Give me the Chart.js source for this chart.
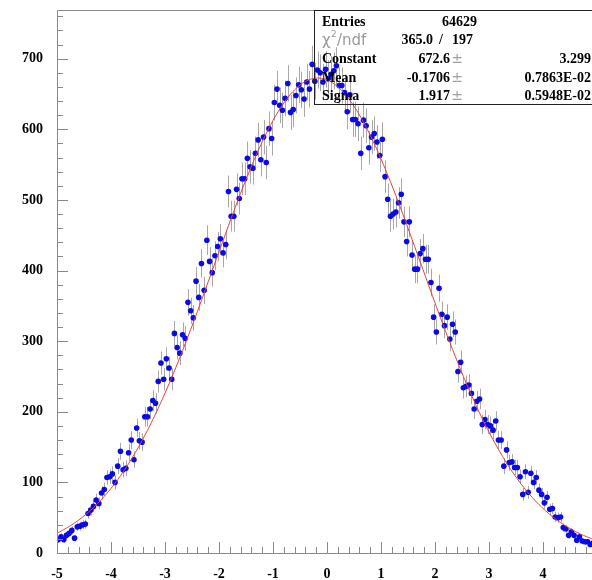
<!DOCTYPE html>
<html>
<head>
<meta charset="utf-8">
<script src="https://cdn.jsdelivr.net/npm/chart.js@4.4.1/dist/chart.umd.min.js"></script>
<style>
  html, body { margin: 0; padding: 0; background: #fff; overflow: hidden; }
  #wrap { position: absolute; left: 0; top: 0; width: 610px; height: 580px; }
</style>
</head>
<body>
<div id="wrap"><canvas id="histo" width="610" height="580"></canvas></div>
<script>
// histogram binning: 200 bins over [-5, 5]
const xMin = -5, xMax = 5, nBins = 200;
const yMax = 769;

// bin contents
const counts = [
  19, 23, 19, 25, 28, 32, 21, 37, 38, 40, 41, 56, 61, 66, 75, 70, 85, 90, 107, 108,
  112, 100, 123, 144, 118, 120, 142, 160, 132, 177, 159, 157, 193, 193, 204, 216, 212, 243, 269, 246,
  275, 262, 246, 311, 291, 283, 309, 304, 355, 343, 333, 385, 362, 410, 372, 443, 413, 397, 421, 434,
  445, 425, 437, 512, 477, 477, 515, 502, 530, 530, 559, 547, 545, 566, 585, 557, 589, 553, 601, 587,
  638, 657, 634, 627, 644, 665, 624, 628, 648, 663, 656, 643, 667, 657, 692, 668, 684, 680, 667, 685,
  672, 678, 683, 690, 662, 662, 652, 625, 649, 614, 614, 608, 566, 613, 605, 574, 589, 594, 582, 563,
  586, 533, 501, 477, 480, 483, 496, 508, 469, 441, 469, 422, 402, 402, 424, 431, 416, 416, 383, 334,
  313, 375, 338, 322, 334, 303, 324, 313, 257, 270, 234, 236, 238, 226, 204, 215, 218, 182, 189, 182,
  180, 174, 187, 160, 160, 123, 146, 128, 129, 121, 121, 108, 83, 115, 86, 113, 100, 107, 89, 83,
  71, 79, 62, 63, 51, 50, 51, 36, 34, 25, 30, 25, 18, 23, 17, 16, 16, 12, 14, 11
];

// gaussian fit result
const fitConstant = 672.6, fitMean = -0.1706, fitSigma = 1.917;
const errConstant = '3.299', errMean = '0.7863E-02', errSigma = '0.5948E-02';
const statEntries = '64629';
const chi2 = '365.0', ndf = '197';

const xTicks = [-5, -4, -3, -2, -1, 0, 1, 2, 3, 4, 5];
const yTicks = [0, 100, 200, 300, 400, 500, 600, 700];
const xMinorStep = 0.2, yMinorStep = 20;

const binWidth = (xMax - xMin) / nBins;
const points = counts.map((c, i) => ({ x: xMin + (i + 0.5) * binWidth, y: c }));

const fitPoints = [];
for (let k = 0; k <= 400; k++) {
  const x = xMin + k * (xMax - xMin) / 400;
  const t = (x - fitMean) / fitSigma;
  fitPoints.push({ x: x, y: fitConstant * Math.exp(-0.5 * t * t) });
}

const serif = '"Liberation Serif", "Times New Roman", serif';

// keep the frame where the layout padding puts it
function noScalePadding(scale) {
  scale.paddingTop = 0;
  scale.paddingBottom = 0;
  scale.paddingLeft = 0;
  scale.paddingRight = 0;
}

// sqrt(N) error bars, drawn under the markers
const errorBars = {
  id: 'errorBars',
  beforeDatasetsDraw(chart) {
    const { ctx, scales: { x, y } } = chart;
    ctx.save();
    ctx.strokeStyle = '#a8a8a8';
    ctx.lineWidth = 1;
    ctx.beginPath();
    points.forEach(p => {
      const e = Math.sqrt(p.y);
      const px = Math.round(x.getPixelForValue(p.x)) + 0.5;
      ctx.moveTo(px, y.getPixelForValue(p.y + e));
      ctx.lineTo(px, y.getPixelForValue(Math.max(0, p.y - e)));
    });
    ctx.stroke();
    ctx.restore();
  }
};

// frame with inward ticks
const frame = {
  id: 'frame',
  afterDatasetsDraw(chart) {
    const { ctx, chartArea: a, scales: { x, y } } = chart;
    ctx.save();
    ctx.strokeStyle = '#8a8a8a';
    ctx.lineWidth = 1;
    ctx.beginPath();
    ctx.moveTo(a.left + 0.5, a.bottom + 0.5);
    ctx.lineTo(a.left + 0.5, a.top + 0.5);
    ctx.lineTo(a.right + 0.5, a.top + 0.5);
    ctx.lineTo(a.right + 0.5, a.bottom + 0.5);
    ctx.lineTo(a.left + 0.5, a.bottom + 0.5);
    for (let k = 0; k * yMinorStep <= yMax; k++) {
      const v = k * yMinorStep;
      const py = Math.round(y.getPixelForValue(v)) + 0.5;
      const len = v % 100 === 0 ? 11 : 6;
      ctx.moveTo(a.left, py);
      ctx.lineTo(a.left + len, py);
    }
    const nx = Math.round((xMax - xMin) / xMinorStep);
    for (let k = 0; k <= nx; k++) {
      const v = xMin + k * xMinorStep;
      const px = Math.round(x.getPixelForValue(v)) + 0.5;
      const len = k % 5 === 0 ? 11 : 6;
      ctx.moveTo(px, a.bottom);
      ctx.lineTo(px, a.bottom - len);
    }
    ctx.stroke();
    ctx.restore();
  }
};

// statistics box
const statBox = {
  id: 'statBox',
  afterDraw(chart) {
    const { ctx, chartArea: a } = chart;
    const left = 314, top = a.top, bottom = 104, right = a.right + 8;
    const cName = 322, cVal = 450, cPm = 457, cErr = 591;
    ctx.save();
    ctx.strokeStyle = '#222';
    ctx.lineWidth = 1;
    ctx.strokeRect(left + 0.5, top + 0.5, right - left, bottom - top);

    ctx.textBaseline = 'middle';
    ctx.fillStyle = '#000';
    ctx.font = 'bold 14px ' + serif;

    ctx.textAlign = 'left';
    ctx.fillText('Entries', cName, 22);
    ctx.textAlign = 'right';
    ctx.fillText(statEntries, 477, 22);

    // chi2 / ndf line
    ctx.fillStyle = '#9a9a9a';
    ctx.font = '15px "DejaVu Sans", sans-serif';
    ctx.textAlign = 'left';
    ctx.fillText('\u03c7', cName, 41);
    ctx.font = '9px "DejaVu Sans", sans-serif';
    ctx.fillText('2', cName + 9, 35);
    ctx.font = '15px "DejaVu Sans", sans-serif';
    ctx.fillText('/ndf', cName + 15, 41);
    ctx.fillStyle = '#000';
    ctx.font = 'bold 14px ' + serif;
    ctx.textAlign = 'right';
    ctx.fillText(chi2, 433, 40);
    ctx.textAlign = 'left';
    ctx.fillText('/', 439, 40);
    ctx.fillText(ndf, 452, 40);

    const rows = [
      ['Constant', fitConstant.toFixed(1), errConstant, 59],
      ['Mean', fitMean.toFixed(4), errMean, 78],
      ['Sigma', fitSigma.toFixed(3), errSigma, 96]
    ];
    rows.forEach(r => {
      ctx.fillStyle = '#000';
      ctx.font = 'bold 14px ' + serif;
      ctx.textAlign = 'left';
      ctx.fillText(r[0], cName, r[3]);
      ctx.textAlign = 'right';
      ctx.fillText(r[1], cVal, r[3]);
      ctx.fillText(r[2], cErr, r[3]);
      ctx.fillStyle = '#a0a0a0';
      ctx.font = '14px "DejaVu Sans", sans-serif';
      ctx.textAlign = 'center';
      ctx.fillText('\u00b1', cPm, r[3]);
    });
    ctx.restore();
  }
};

new Chart(document.getElementById('histo'), {
  type: 'scatter',
  data: {
    datasets: [
      {
        type: 'line',
        label: 'gaus',
        data: fitPoints,
        borderColor: '#e2403a',
        borderWidth: 1,
        pointRadius: 0,
        tension: 0,
        fill: false,
        order: 0
      },
      {
        label: 'h',
        data: points,
        backgroundColor: '#0a0ae6',
        borderColor: '#0a0ae6',
        borderWidth: 0,
        pointRadius: 2.8,
        order: 1
      }
    ]
  },
  options: {
    responsive: false,
    animation: false,
    devicePixelRatio: 1,
    layout: { padding: { top: 10, right: 13, left: 0, bottom: 0 } },
    plugins: { legend: { display: false }, tooltip: { enabled: false } },
    scales: {
      x: {
        type: 'linear',
        min: xMin,
        max: xMax,
        border: { display: false },
        grid: { display: false, drawTicks: false },
        afterFit(scale) { scale.height = 27; noScalePadding(scale); },
        afterBuildTicks(scale) { scale.ticks = xTicks.map(v => ({ value: v })); },
        ticks: {
          autoSkip: false,
          maxRotation: 0,
          padding: 13,
          color: '#000',
          font: { family: serif, size: 14, weight: 'bold' },
          callback: v => String(v)
        }
      },
      y: {
        type: 'linear',
        min: 0,
        max: yMax,
        border: { display: false },
        grid: { display: false, drawTicks: false },
        afterFit(scale) { scale.width = 57; noScalePadding(scale); },
        afterBuildTicks(scale) { scale.ticks = yTicks.map(v => ({ value: v })); },
        ticks: {
          autoSkip: false,
          padding: 14,
          color: '#000',
          font: { family: serif, size: 14, weight: 'bold' },
          callback: v => String(v)
        }
      }
    }
  },
  plugins: [errorBars, frame, statBox]
});
</script>
</body>
</html>
